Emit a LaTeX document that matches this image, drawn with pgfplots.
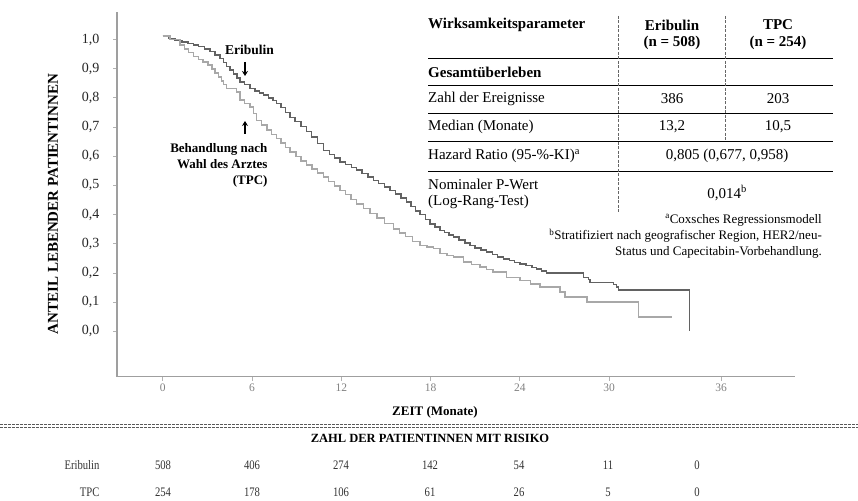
\documentclass[border=0pt]{standalone}
\usepackage{pgfplots}
\pgfplotsset{compat=1.18}
\usepackage{fontspec}
\setmainfont{Liberation Serif}
\newfontfamily\cond[FakeStretch=0.82]{Liberation Serif}
\usetikzlibrary{arrows.meta}
\definecolor{eri}{HTML}{626262}
\definecolor{tpc}{HTML}{A8A8A8}
\pgfplotstableread{
t S
0 1.012
0.4 1.004
0.83 0.996
1.3 0.991
1.7 0.986
2.06 0.981
2.4 0.975
2.8 0.967
3.18 0.958
3.5 0.947
3.85 0.935
4.1 0.921
4.3 0.908
4.52 0.895
4.75 0.881
5.0 0.867
5.19 0.855
5.5 0.845
5.87 0.832
6.2 0.824
6.5 0.816
6.76 0.809
7.1 0.800
7.4 0.790
7.66 0.781
7.95 0.766
8.25 0.750
8.56 0.733
8.9 0.718
9.3 0.701
9.68 0.684
10.0 0.665
10.4 0.643
10.79 0.620
11.2 0.606
11.55 0.593
11.92 0.580
12.3 0.571
12.7 0.561
13.04 0.552
13.4 0.540
13.8 0.528
14.15 0.517
14.5 0.506
14.9 0.494
15.28 0.483
15.65 0.470
16.0 0.457
16.4 0.443
16.7 0.428
17.0 0.412
17.3 0.400
17.65 0.383
17.97 0.368
18.3 0.357
18.65 0.346
18.95 0.338
19.25 0.330
19.53 0.323
19.9 0.313
20.3 0.303
20.65 0.294
21.0 0.286
21.4 0.278
21.77 0.271
22.15 0.263
22.5 0.255
22.89 0.248
23.3 0.242
23.65 0.236
24.01 0.231
24.4 0.225
24.8 0.219
25.13 0.214
25.45 0.206
25.8 0.199
28.27 0.185
28.6 0.177
28.7 0.168
30.28 0.160
30.5 0.151
30.62 0.142
35.4 0.0
}\eribulin
\pgfplotstableread{
t S
0 1.012
0.5 1.000
1.16 0.981
1.45 0.968
1.75 0.955
2.06 0.941
2.4 0.932
2.7 0.922
3.06 0.912
3.3 0.898
3.5 0.885
3.74 0.872
3.95 0.858
4.1 0.845
4.30 0.832
4.97 0.820
5.19 0.792
5.5 0.780
5.87 0.769
6.1 0.746
6.32 0.723
6.65 0.706
7.0 0.689
7.3 0.675
7.66 0.660
7.95 0.645
8.25 0.630
8.56 0.614
8.95 0.599
9.3 0.584
9.68 0.569
10.05 0.556
10.4 0.542
10.79 0.529
11.15 0.514
11.55 0.498
11.92 0.483
12.3 0.468
12.65 0.452
13.04 0.437
13.5 0.420
13.93 0.403
14.4 0.388
14.9 0.370
15.5 0.350
15.9 0.337
16.3 0.324
16.8 0.308
17.3 0.294
17.75 0.289
18.19 0.283
18.65 0.266
19.1 0.260
19.53 0.254
20.2 0.237
20.75 0.229
21.32 0.220
21.75 0.212
22.2 0.203
23.1 0.185
24.0 0.174
24.7 0.162
25.35 0.151
26.7 0.134
27.04 0.117
28.5 0.100
31.96 0.049
34.2 0.049
}\tpc
\begin{document}
\begin{tikzpicture}[x=1pt,y=1pt]
\path[use as bounding box] (0,0) rectangle (858,500);
\begin{axis}[
  at={(117pt,123.3pt)}, anchor=south west,
  scale only axis, width=678pt, height=364.7pt,
  xmin=-3.07, xmax=42.49, ymin=-0.1555, ymax=1.094,
  axis lines=left,
  axis line style={draw=gray!75, line width=1.3pt, -},
  xtick={0,6,12,18,24,30,37.52},
  xticklabels={0,6,12,18,24,30,36},
  ytick={0,0.1,0.2,0.3,0.4,0.5,0.6,0.7,0.8,0.9,1},
  yticklabels={{0,0},{0,1},{0,2},{0,3},{0,4},{0,5},{0,6},{0,7},{0,8},{0,9},{1,0}},
  tick align=outside, major tick length=4pt,
  tick style={draw=gray!60, line width=0.8pt},
  yticklabel style={font=\fontsize{14}{14}\selectfont, text=black!85, xshift=-10pt},
  xticklabel style={font=\fontsize{11.5}{11.5}\selectfont, text=gray},
]
\addplot[const plot, draw=eri, line width=1.5pt] table[x=t, y=S] {\eribulin};
\addplot[const plot, draw=tpc, line width=1.5pt] table[x=t, y=S] {\tpc};
\end{axis}
% y label
\node[rotate=90, font=\fontsize{15}{15}\bfseries\selectfont] at (53,296) {ANTEIL LEBENDER PATIENTINNEN};
% annotations
\node[font=\fontsize{13.5}{13.5}\bfseries\selectfont] at (249.5,450) {Eribulin};
\draw[-{Stealth[length=5pt,width=6pt]}, line width=1.8pt] (245,438) -- (245,424);
\draw[-{Stealth[length=5pt,width=6pt]}, line width=1.8pt] (245,366) -- (245,379);
\node[anchor=east, font=\fontsize{13}{13}\bfseries\selectfont] at (271,351) {Behandlung nach};
\node[anchor=east, font=\fontsize{13}{13}\bfseries\selectfont] at (271,336) {Wahl des Arztes};
\node[anchor=east, font=\fontsize{13}{13}\bfseries\selectfont] at (271,319) {(TPC)};
% table
\foreach \yy in {442,415,387,359,329} \draw[line width=0.9pt] (428,\yy) -- (833,\yy);
\draw[gray!80!black, line width=0.7pt, dash pattern=on 3pt off 1.5pt] (618,484) -- (618,288);
\draw[gray!80!black, line width=0.7pt, dash pattern=on 3pt off 1.5pt] (725,484) -- (725,359);
\begin{scope}[every node/.style={font=\fontsize{15}{15}\selectfont, inner sep=0pt}]
\node[anchor=west, font=\fontsize{15}{15}\bfseries\selectfont] at (428,475) {Wirksamkeitsparameter};
\node[font=\fontsize{15}{15}\bfseries\selectfont] at (672,475) {Eribulin};
\node[font=\fontsize{15}{15}\bfseries\selectfont] at (672,457) {(n = 508)};
\node[font=\fontsize{15}{15}\bfseries\selectfont] at (778,475) {TPC};
\node[font=\fontsize{15}{15}\bfseries\selectfont] at (778,457) {(n = 254)};
\node[anchor=west, font=\fontsize{15}{15}\bfseries\selectfont] at (428,428) {Gesamtüberleben};
\node[anchor=west] at (428,401) {Zahl der Ereignisse};
\node at (672,401) {386};
\node at (778,401) {203};
\node[anchor=west] at (428,373) {Median (Monate)};
\node at (672,373) {13,2};
\node at (778,373) {10,5};
\node[anchor=west] at (428,344) {Hazard Ratio (95-\%-KI)\textsuperscript{a}};
\node at (727,344) {0,805 (0,677, 0,958)};
\node[anchor=west] at (428,316) {Nominaler P-Wert};
\node[anchor=west] at (428,298) {(Log-Rang-Test)};
\node at (727,307) {0,014\textsuperscript{b}};
\end{scope}
\begin{scope}[every node/.style={font=\fontsize{13}{13}\selectfont, inner sep=0pt, anchor=east}]
\node at (822,280) {\textsuperscript{a}Coxsches Regressionsmodell};
\node at (822,264) {\textsuperscript{b}Stratifiziert nach geografischer Region, HER2/neu-};
\node at (822,248) {Status und Capecitabin-Vorbehandlung.};
\end{scope}
% x label and risk table
\node[font=\fontsize{13}{13}\bfseries\selectfont] at (435,88) {ZEIT (Monate)};
\draw[gray!70!black, line width=1.1pt, dash pattern=on 3pt off 1pt] (0,75.5) -- (858,75.5);
\draw[gray!70!black, line width=1.1pt, dash pattern=on 3pt off 1pt] (0,72.5) -- (858,72.5);
\node[font=\fontsize{12.5}{12.5}\bfseries\selectfont] at (430,62) {ZAHL DER PATIENTINNEN MIT RISIKO};
\begin{scope}[every node/.style={font=\cond\fontsize{13}{13}\selectfont, text=black!80}]
\node[anchor=east] at (103,35) {Eribulin};
\node[anchor=east] at (103,8) {TPC};
\foreach \xx/\a/\b in {163/508/254, 252/406/178, 341/274/106, 430/142/61, 519/54/26, 608/11/5, 697/0/0}{
  \node at (\xx,35) {\a};
  \node at (\xx,8) {\b};
}
\end{scope}
\end{tikzpicture}
\end{document}
